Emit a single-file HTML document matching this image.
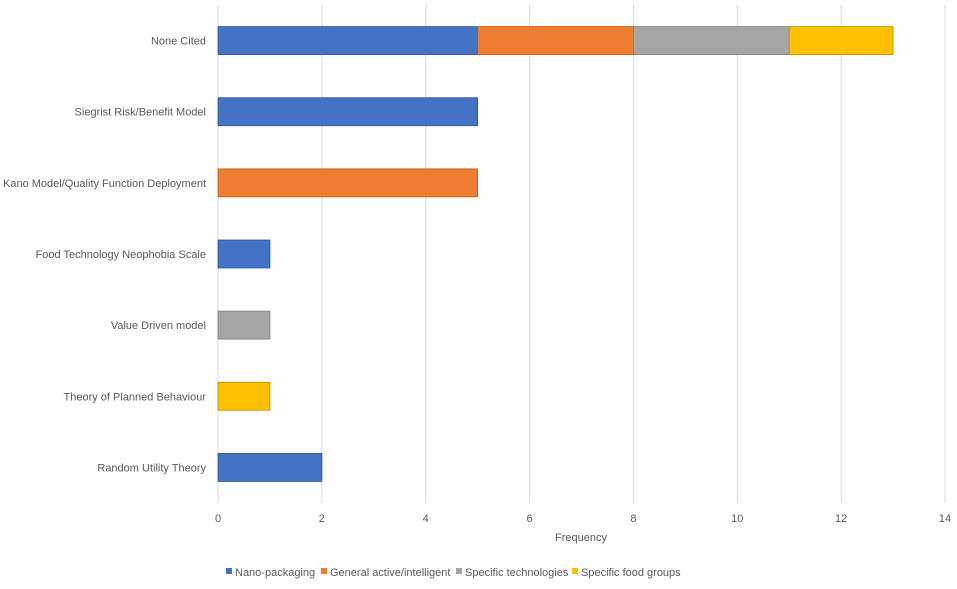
<!DOCTYPE html>
<html><head><meta charset="utf-8"><style>
body{margin:0;background:#fff;font-family:"Liberation Sans",sans-serif;}
svg text{font-family:"Liberation Sans",sans-serif;fill:#595959;font-size:11px;}
</style></head><body>
<svg id="chart" width="957" height="584"></svg>
<script>
const categories=["None Cited","Siegrist Risk/Benefit Model","Kano Model/Quality Function Deployment","Food Technology Neophobia Scale","Value Driven model","Theory of Planned Behaviour","Random Utility Theory"];
const seriesNames=["Nano-packaging","General active/intelligent","Specific technologies","Specific food groups"];
const nano=[5,5,0,1,0,0,2];
const general=[3,0,5,0,0,0,0];
const specTech=[3,0,0,0,1,0,0];
const foodGroups=[2,0,0,0,0,1,0];
const ticks=[0,2,4,6,8,10,12,14];
(function(){
const colors=["#4472C4","#ED7D31","#A5A5A5","#FFC000"];
const strokes=["#2F5597","#C55A11","#7F7F7F","#BF9000"];
const ns="http://www.w3.org/2000/svg";
const svg=document.getElementById('chart');
const x0=218,x1=945,yTop=5,yBottom=503;
const xs=v=>x0+(x1-x0)*v/14;
const band=(yBottom-yTop)/categories.length;
const yc=i=>yTop+band*(i+0.5);
function mk(t,a,txt){const e=document.createElementNS(ns,t);for(const k in a)e.setAttribute(k,a[k]);if(txt!==undefined)e.textContent=txt;svg.appendChild(e);return e;}
ticks.forEach(t=>{
 const g=mk('line',{x1:xs(t),x2:xs(t),y1:yTop,y2:yBottom,stroke:'#D9D9D9','stroke-width':1});
 
 
 const l=mk('text',{x:xs(t),y:522,'text-anchor':'middle'},t);
 
 
});
const series=[nano,general,specTech,foodGroups];
categories.forEach((c,i)=>{
 const l=mk('text',{x:206,y:yc(i)+4,'text-anchor':'end'},c);
 
 
 let acc=0;
 series.forEach((s,j)=>{
  if(s[i]>0){
   const r=mk('rect',{x:xs(acc),y:yc(i)-14,width:xs(acc+s[i])-xs(acc),height:28,fill:colors[j],stroke:strokes[j],'stroke-width':0.8});
   
   
  }
  acc+=s[i];
 });
});
const ft=mk('text',{x:581,y:541,'text-anchor':'middle','font-size':'12'},'Frequency');


const lx=[226,321,456,572];
seriesNames.forEach((n,j)=>{
 const r=mk('rect',{x:lx[j],y:568,width:6,height:6,fill:colors[j]});
 
 
 const t=mk('text',{x:lx[j]+9,y:576,'font-size':'10'},n);
 
 
});
})();
</script>
</body></html>
